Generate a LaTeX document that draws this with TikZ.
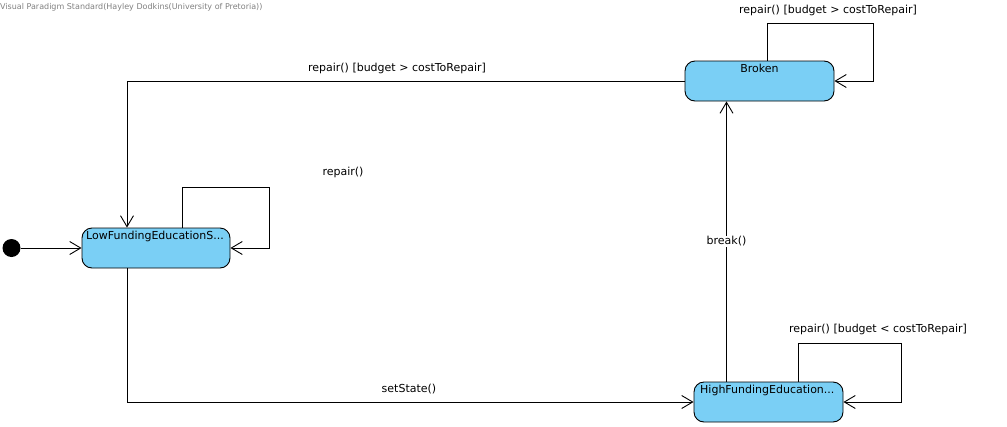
\documentclass[tikz,border=0pt]{standalone}
\usepackage{fontspec}
\setmainfont{DejaVu Sans}
\usetikzlibrary{arrows.meta}
\definecolor{statefill}{RGB}{122,207,245}
\begin{document}
\begin{tikzpicture}[x=1pt,y=-1pt,
  every node/.style={font=\fontsize{11}{13}\selectfont, inner sep=0pt},
  statebox/.style={draw=black, line width=0.9pt, fill=statefill, rounded corners=10pt, minimum height=40pt},
  arr/.style={draw=black, line width=0.9pt, -{Straight Barb[length=11pt,width=13pt,line width=0.9pt]}},
  lbl/.style={fill=white, inner sep=1pt}]
\useasboundingbox (0,0) rectangle (1007,426);
% watermark
\node[anchor=west, text=gray, font=\fontsize{8}{10}\selectfont] (wm) at (0,7) {Visual Paradigm Standard(Hayley Dodkins(University of Pretoria))};
% states
\node[statebox, minimum width=149pt] (broken) at (759.5,81) {};
\node[anchor=center] (brokent) at (759.5,68) {Broken};
\node[statebox, minimum width=148pt] (low) at (156,248) {};
\node[anchor=west] (lowt) at (86,236) {LowFundingEducationS...};
\node[statebox, minimum width=149pt] (high) at (768.5,402) {};
\node[anchor=west] (hight) at (700,390) {HighFundingEducation...};
% initial
\node[circle, fill=black, minimum size=18pt] (init) at (11.5,248) {};
\draw[arr] (init) -- (low.west);
% Broken self loop
\draw[arr] ([xshift=8pt]broken.north) |- (873,23) |- (broken.east);
\node (l1) at (828,10) {repair() [budget > costToRepair]};
% Broken -> Low
\draw[arr] (broken.west) -| ([xshift=-29pt]low.north);
\node (l2) at (397,68) {repair() [budget > costToRepair]};
% Low self loop
\draw[arr] ([xshift=26pt]low.north) |- (269,187) |- (low.east);
\node (l3) at (343,172) {repair()};
% Low -> High
\draw[arr] ([xshift=-29pt]low.south) |- (high.west);
\node (l4) at (409,389) {setState()};
% High self loop
\draw[arr] ([xshift=30pt]high.north) |- (901,343) |- (high.east);
\node (l5) at (878,329) {repair() [budget < costToRepair]};
% High -> Broken
\draw[arr] ([xshift=-42pt]high.north) -- node[lbl] (l6) {break()} ([xshift=-33pt]broken.south);
\end{tikzpicture}
\end{document}
